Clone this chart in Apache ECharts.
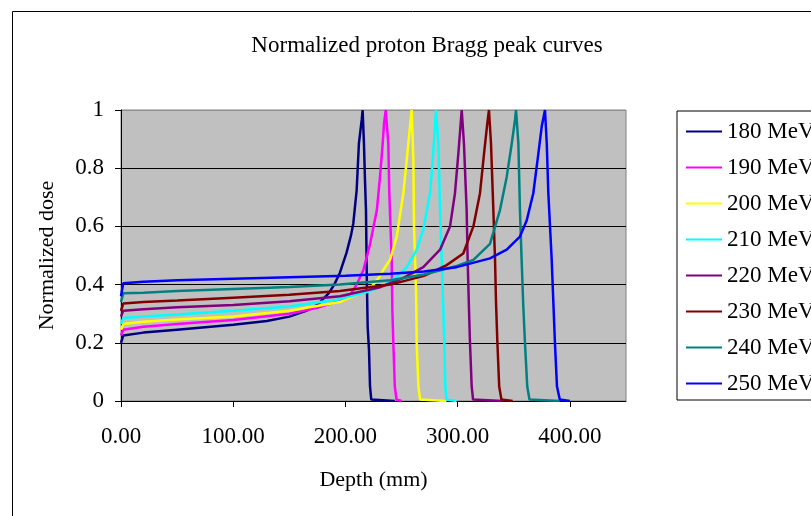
<!DOCTYPE html>
<html>
<head>
<meta charset="utf-8">
<script src="https://cdn.jsdelivr.net/npm/echarts@6/dist/echarts.min.js"></script>
<style>
html,body{margin:0;padding:0;background:#fff;}
#chart{width:811px;height:516px;}
</style>
</head>
<body>
<div id="chart"></div>
<script>
// ---- Data: [depth (mm), normalized dose] ----
const seriesNames = ['180 MeV','190 MeV','200 MeV','210 MeV','220 MeV','230 MeV','240 MeV','250 MeV'];
const seriesColors = ['#000080','#FF00FF','#FFFF00','#00FFFF','#800080','#800000','#008080','#0000FF'];

const mev180 = [[0,0.20],[2,0.225],[20,0.235],[50,0.245],[100,0.262],[130,0.275],[150,0.29],[165,0.31],[175,0.33],[185,0.37],[190,0.40],[195,0.44],[201,0.51],[205,0.57],[207,0.61],[210,0.725],[212,0.885],[214.5,0.966],[215.3,1.0],[216.5,0.885],[217.4,0.76],[218.3,0.656],[219,0.43],[219.8,0.255],[221,0.175],[221.9,0.05],[223,0.005],[244,0]];
const mev190 = [[0,0.225],[2,0.245],[20,0.255],[50,0.265],[100,0.278],[150,0.30],[175,0.32],[195,0.345],[205,0.37],[210,0.40],[216,0.45],[222,0.54],[228,0.656],[230.8,0.77],[233.2,0.885],[234.4,0.954],[235.9,1.0],[238.2,0.885],[239.1,0.714],[241.2,0.485],[241.8,0.313],[242.7,0.198],[244,0.05],[245.5,0.005],[250,0]];
const mev200 = [[0,0.245],[2,0.265],[20,0.272],[50,0.28],[100,0.29],[150,0.31],[195,0.34],[219,0.38],[225,0.40],[230,0.425],[233.7,0.45],[239.7,0.485],[245.7,0.565],[251.6,0.714],[254.6,0.828],[257.5,0.943],[259,1.0],[260.5,0.83],[261.1,0.6],[262.9,0.38],[263.5,0.198],[265,0.05],[266.5,0.005],[290,0]];
const mev210 = [[0,0.265],[2,0.285],[20,0.29],[50,0.297],[100,0.31],[150,0.325],[195,0.35],[220,0.375],[235,0.40],[245,0.425],[254.6,0.46],[263.5,0.52],[269.4,0.59],[275.4,0.714],[277.8,0.83],[279.8,0.943],[280.7,1.0],[282.8,0.885],[284.3,0.656],[285.8,0.485],[287.2,0.313],[288.1,0.198],[289,0.05],[290,0.005],[299,0]];
const mev220 = [[0,0.29],[2,0.31],[20,0.315],[50,0.322],[100,0.33],[150,0.343],[195,0.36],[230,0.39],[250,0.42],[269.4,0.46],[284.3,0.52],[293.2,0.6],[297.6,0.714],[300.6,0.85],[302.7,0.954],[303.6,1.0],[305.6,0.885],[308,0.656],[308.9,0.485],[310.1,0.313],[311,0.198],[312.5,0.05],[313.7,0.005],[340,0]];
const mev230 = [[0,0.31],[2,0.335],[20,0.34],[50,0.345],[100,0.355],[150,0.365],[195,0.378],[240,0.40],[270,0.43],[290.2,0.467],[305,0.507],[314,0.6],[319.9,0.714],[323.5,0.85],[326.4,0.954],[327.9,1.0],[329.7,0.885],[331.8,0.656],[333.3,0.485],[334.2,0.336],[335.3,0.21],[337,0.05],[339,0.005],[349,0]];
const mev240 = [[0,0.34],[2,0.37],[20,0.372],[50,0.378],[100,0.385],[150,0.392],[195,0.40],[240,0.415],[270,0.435],[300,0.465],[314,0.485],[328.8,0.54],[337.7,0.656],[343.7,0.77],[348.2,0.885],[351.1,0.966],[352,1.0],[354.1,0.885],[355.5,0.656],[357,0.485],[358.5,0.324],[360,0.198],[362,0.05],[364,0.005],[391,0]];
const mev250 = [[0,0.36],[2,0.405],[20,0.41],[50,0.415],[100,0.42],[150,0.425],[200,0.43],[240,0.437],[270,0.445],[299,0.46],[328.8,0.49],[343.7,0.52],[355.5,0.565],[361.5,0.62],[367.4,0.714],[371.9,0.85],[374.9,0.943],[377.8,1.0],[379.4,0.885],[380.8,0.714],[383.8,0.485],[385.3,0.336],[386.7,0.198],[388.5,0.05],[391,0.005],[400,0]];
const seriesData = [mev180, mev190, mev200, mev210, mev220, mev230, mev240, mev250];

const xTicks = [0,100,200,300,400];
const yTicks = [0,0.2,0.4,0.6,0.8,1];

const FONT = "'Liberation Serif','Times New Roman',serif";
const chart = echarts.init(document.getElementById('chart'), null, {renderer:'canvas'});

chart.setOption({
  animation: false,
  backgroundColor: '#ffffff',
  title: {
    text: 'Normalized proton Bragg peak curves',
    left: 422, top: 29, textAlign: 'center',
    textStyle: {fontFamily: FONT, fontSize: 23, fontWeight: 'normal', color: '#000'}
  },
  graphic: [{
    type: 'rect', left: 10, top: 9, z: -10,
    shape: {x: 0, y: 0, width: 900, height: 600},
    style: {fill: 'none', stroke: '#000', lineWidth: 1}
  }],
  legend: {
    orient: 'vertical',
    left: 677, top: 111,
    padding: [9, 80, 5, 9],
    itemGap: 13,
    itemWidth: 36, itemHeight: 2,
    icon: 'rect',
    borderColor: '#000', borderWidth: 1,
    backgroundColor: '#fff',
    textStyle: {fontFamily: FONT, fontSize: 23, lineHeight: 23, color: '#000'},
    data: seriesNames
  },
  grid: {
    left: 121, right: 185, top: 110, bottom: 115,
    show: true, backgroundColor: '#C0C0C0', borderColor: '#808080', borderWidth: 1
  },
  xAxis: {
    type: 'value', min: 0, max: 450, interval: 100,
    name: 'Depth (mm)', nameLocation: 'middle', nameGap: 68,
    nameTextStyle: {fontFamily: FONT, fontSize: 22, color: '#000'},
    axisLine: {show: true, lineStyle: {color: '#000', width: 1}},
    axisTick: {show: true, length: 6, lineStyle: {color: '#000'}, customValues: xTicks},
    axisLabel: {fontFamily: FONT, fontSize: 23, color: '#000', margin: 24,
      customValues: xTicks, formatter: v => v.toFixed(2)},
    splitLine: {show: false}
  },
  yAxis: {
    type: 'value', min: 0, max: 1, interval: 0.2,
    name: 'Normalized dose', nameLocation: 'middle', nameGap: 63,
    nameTextStyle: {fontFamily: FONT, fontSize: 22, color: '#000'},
    axisLine: {show: true, lineStyle: {color: '#000', width: 1}},
    axisTick: {show: true, length: 6, lineStyle: {color: '#000'}},
    axisLabel: {fontFamily: FONT, fontSize: 23, color: '#000', margin: 17,
      formatter: v => String(Math.round(v * 10) / 10)},
    splitLine: {show: true, lineStyle: {color: ['#000','#000','#000','#000','#000','#909090'], width: 1}}
  },
  series: seriesData.map((d, i) => ({
    name: seriesNames[i],
    type: 'line',
    data: d,
    showSymbol: false,
    symbol: 'none',
    lineStyle: {color: seriesColors[i], width: 2.5},
    itemStyle: {color: seriesColors[i]},
    emphasis: {disabled: true}
  }))
});
</script>
</body>
</html>
